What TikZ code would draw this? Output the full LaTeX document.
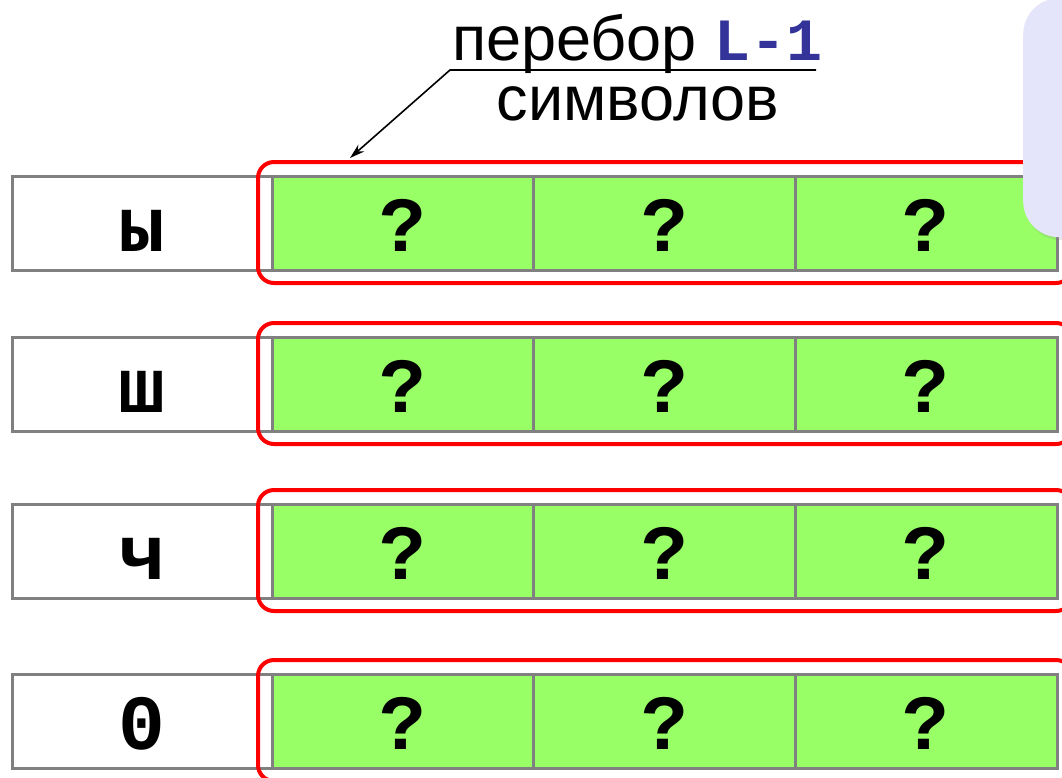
\documentclass[tikz,border=0pt]{standalone}
\usepackage{fontspec}
\setmainfont{Liberation Sans}
\newfontfamily\codefont{Liberation Mono}
\usetikzlibrary{arrows.meta,shadows}
\definecolor{cellgreen}{RGB}{153,255,102}
\definecolor{gridgray}{RGB}{128,128,128}
\definecolor{markred}{RGB}{255,0,0}
\definecolor{codeblue}{RGB}{51,51,153}
\definecolor{notebg}{RGB}{228,228,250}
\newcommand{\cellw}{261.7pt}
\newcommand{\codesize}{\fontsize{78}{78}\selectfont}

\begin{document}
\begin{tikzpicture}[x=1pt,y=-1pt,
    cell/.style={draw=gridgray, line width=3pt, minimum width=\cellw, minimum height=94pt,
      inner sep=0pt, outer sep=0pt, anchor=north west, text height=60pt, text depth=4pt,
      font=\codefont\bfseries\codesize},
    letterbox/.style={cell, fill=white, minimum width=260pt},
    guessbox/.style={cell, fill=cellgreen},
    groupbox/.style={draw=markred, line width=4pt, rounded corners=16pt},
    pointer/.style={line width=1.6pt, -{Stealth[length=15pt,width=9pt]}}]
      \path[use as bounding box, clip] (0,0) rectangle (1062,777);

      % rows
        \node (s1) at (12,176) [letterbox] {ы};
        \node (s1a) at (s1.north east) [guessbox] {?};
        \node (s1b) at (s1a.north east) [guessbox] {?};
        \node (s1c) at (s1b.north east) [guessbox] {?};

        \node (s2) at (12,337) [letterbox] {ш};
        \node (s2a) at (s2.north east) [guessbox] {?};
        \node (s2b) at (s2a.north east) [guessbox] {?};
        \node (s2c) at (s2b.north east) [guessbox] {?};

        \node (s3) at (12,504) [letterbox] {ч};
        \node (s3a) at (s3.north east) [guessbox] {?};
        \node (s3b) at (s3a.north east) [guessbox] {?};
        \node (s3c) at (s3b.north east) [guessbox] {?};

        \node (s4) at (12,674) [letterbox] {0};
        \node (s4a) at (s4.north east) [guessbox] {?};
        \node (s4b) at (s4a.north east) [guessbox] {?};
        \node (s4c) at (s4b.north east) [guessbox] {?};

      % red frames
        \draw[groupbox] ([shift={(-14,-14)}]s1a.north west) rectangle ([shift={(15,13)}]s1c.south east);
        \draw[groupbox] ([shift={(-14,-14)}]s2a.north west) rectangle ([shift={(15,13)}]s2c.south east);
        \draw[groupbox] ([shift={(-14,-14)}]s3a.north west) rectangle ([shift={(15,13)}]s3c.south east);
        \draw[groupbox] ([shift={(-14,-14)}]s4a.north west) rectangle ([shift={(15,13)}]s4c.south east);

      % note
        \node (note) at (1023,-2) [anchor=north west, minimum width=100pt, minimum height=239pt,
          fill=notebg, rounded corners=36pt,
          drop shadow={shadow xshift=2pt, shadow yshift=-3pt, opacity=0.2}] {};

      % label
        \node (head) at (452,60) [anchor=base west, inner sep=0pt, font=\fontsize{63}{63}\selectfont]
          {перебор \textcolor{codeblue}{\codefont\bfseries\fontsize{60}{60}\selectfont L-1}};
        \node (tail) at (638,120) [anchor=base, inner sep=0pt, font=\fontsize{63}{63}\selectfont] {символов};
        \coordinate (lineend) at (816,70);
        \coordinate (linestart) at (450,70);
        \coordinate (target) at (350,158);

        \draw[pointer] (lineend) -- (linestart) -- (target);
    \end{tikzpicture}
\end{document}
